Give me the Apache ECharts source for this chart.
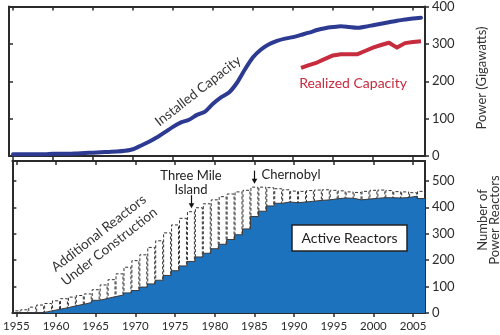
<!DOCTYPE html>
<html>
<head>
<meta charset="utf-8">
<script src="https://cdn.jsdelivr.net/npm/echarts@6/dist/echarts.min.js"></script>
<style>
  html, body { margin: 0; padding: 0; background: #fff; }
  #chart { width: 500px; height: 335px; }
</style>
</head>
<body>
<div id="chart"></div>
<script>
// ---- data -------------------------------------------------------------
const years = [1955,1956,1957,1958,1959,1960,1961,1962,1963,1964,
               1965,1966,1967,1968,1969,1970,1971,1972,1973,1974,
               1975,1976,1977,1978,1979,1980,1981,1982,1983,1984,
               1985,1986,1987,1988,1989,1990,1991,1992,1993,1994,
               1995,1996,1997,1998,1999,2000,2001,2002,2003,2004,
               2005,2006];
const yearTicks = [1955,1960,1965,1970,1975,1980,1985,1990,1995,2000,2005];
const powerTicks = [0,100,200,300,400];
const reactorTicks = [0,100,200,300,400,500];

// installed nuclear capacity, GW
const installedCapacity = [5,5,5,5,5,6,6,6,7,8,
                           9,10,11,12,14,18,28,38,50,64,
                           78,90,97,110,119,140,157,170,196,232,
                           264,285,299,308,314,318,324,330,337,342,
                           345,347,345,343,346,350,354,358,362,365,
                           368,370];
// realized (average delivered) capacity, GW
const realizedYears = [1991,1992,1993,1994,1995,1996,1997,1998,1999,2000,
                       2001,2002,2003,2004,2005,2006];
const realizedCapacity = [236,243,250,260,269,272,272,272,281,290,
                          297,303,290,302,305,307];
// reactors in operation
const activeReactors = [0,0,1,2,8,14,20,27,33,40,
                        48,55,62,68,76,85,98,110,124,142,
                        160,178,195,212,226,243,260,278,296,318,
                        365,385,405,415,420,417,420,423,426,428,
                        432,435,434,428,431,434,436,436,435,437,
                        442,433];
// reactors in operation plus those under construction
const totalReactors = [10,14,24,32,38,48,56,62,68,74,
                       90,108,128,150,175,200,222,250,275,305,
                       335,360,385,400,415,430,442,452,460,466,
                       478,478,476,472,468,463,462,465,467,468,
                       466,464,460,458,462,466,467,465,461,460,
                       457,462];

// ---- styling ----------------------------------------------------------
const FONT = 'Lato, "Noto Sans", sans-serif';
const INK = '#2b2b2b';
const NAVY = '#2d3a92';
const RED = '#c62b3e';
const FILL = '#1c72bd';
const X_MIN = 1954.5, X_MAX = 2006.5;

// each year's count spans from half a year before to half a year after it
function stepPoints(vals) {
  const pts = [];
  years.forEach((y, i) => { pts.push([y - 0.5, vals[i]], [y + 0.5, vals[i]]); });
  return pts;
}

const frameLine = { show: true, onZero: false, lineStyle: { color: INK, width: 2 } };
const tickLine = { color: INK, width: 1.5 };

function xAxisFor(grid, position, inside, labels) {
  return {
    type: 'value', gridIndex: grid, position: position,
    min: X_MIN, max: X_MAX,
    axisLine: frameLine,
    axisTick: { show: true, inside: inside, length: 4, customValues: yearTicks, lineStyle: tickLine },
    axisLabel: labels
      ? { show: true, customValues: yearTicks, formatter: v => String(v),
          color: INK, fontFamily: FONT, fontSize: 11.5, margin: 7 }
      : { show: false },
    splitLine: { show: false }
  };
}
function yAxisFor(grid, position, max, ticks, labels) {
  return {
    type: 'value', gridIndex: grid, position: position,
    min: 0, max: max,
    axisLine: frameLine,
    axisTick: { show: true, inside: !labels, length: 4, customValues: ticks, lineStyle: tickLine },
    axisLabel: labels
      ? { show: true, customValues: ticks, color: INK, fontFamily: FONT, fontSize: 13, margin: 7 }
      : { show: false },
    splitLine: { show: false }
  };
}

const chart = echarts.init(document.getElementById('chart'), null, { renderer: 'canvas' });

chart.setOption({
  animation: false,
  backgroundColor: '#fff',
  grid: [
    { left: 9, top: 5, width: 416, height: 151 },
    { left: 9, top: 161, width: 416, height: 152 }
  ],
  xAxis: [
    xAxisFor(0, 'bottom', false, false),
    xAxisFor(0, 'top', true, false),
    xAxisFor(1, 'bottom', false, true),
    xAxisFor(1, 'top', true, false)
  ],
  yAxis: [
    yAxisFor(0, 'right', 400, powerTicks, true),
    yAxisFor(0, 'left', 400, powerTicks, false),
    yAxisFor(1, 'right', 575, reactorTicks, true),
    yAxisFor(1, 'left', 575, reactorTicks, false)
  ],
  series: [
    {
      name: 'Installed Capacity', type: 'line', xAxisIndex: 0, yAxisIndex: 0,
      data: years.map((y, i) => [y, installedCapacity[i]]),
      smooth: 0.25, showSymbol: false,
      lineStyle: { color: NAVY, width: 4, cap: 'round', join: 'round' }, z: 3
    },
    {
      name: 'Realized Capacity', type: 'line', xAxisIndex: 0, yAxisIndex: 0,
      data: realizedYears.map((y, i) => [y, realizedCapacity[i]]),
      showSymbol: false,
      lineStyle: { color: RED, width: 4, join: 'round' }, z: 3
    },
    {
      // dashed columns up to the total; the active area covers their lower part
      name: 'Under Construction', type: 'bar', xAxisIndex: 2, yAxisIndex: 2,
      barWidth: '100%', silent: true,
      data: years.map((y, i) => [y, totalReactors[i]]),
      itemStyle: { color: 'rgba(255,255,255,0)', borderColor: '#333', borderWidth: 1, borderType: [3, 2] },
      z: 1
    },
    {
      name: 'Active Reactors', type: 'line', xAxisIndex: 2, yAxisIndex: 2,
      data: stepPoints(activeReactors), showSymbol: false,
      lineStyle: { color: '#3a3a3a', width: 1 },
      areaStyle: { color: FILL, opacity: 1 }, z: 3
    }
  ]
});

// event arrows point at the top of the stacked reactor count for that year
function arrowAt(year) {
  const i = years.indexOf(year);
  const p = chart.convertToPixel({ xAxisIndex: 2, yAxisIndex: 2 }, [year, totalReactors[i]]);
  const x = Math.round(p[0]) + 0.5, tip = p[1] - 3;
  return [
    { type: 'line', z: 100, shape: { x1: x, y1: tip - 13, x2: x, y2: tip - 3 }, style: { stroke: '#111', lineWidth: 1.2 } },
    { type: 'polygon', z: 100, shape: { points: [[x - 2.8, tip - 5], [x + 2.8, tip - 5], [x, tip]] }, style: { fill: '#111' } }
  ];
}

const textStyle = (t, size, color, extra) => Object.assign({
  text: t, font: size + 'px ' + FONT, fill: color, align: 'center', verticalAlign: 'middle'
}, extra || {});

chart.setOption({
  graphic: [
    { type: 'text', z: 100, x: 198, y: 91, rotation: 38 * Math.PI / 180,
      style: textStyle('Installed Capacity', 13.5, '#333') },
    { type: 'text', z: 100, x: 353, y: 83,
      style: textStyle('Realized Capacity', 14, RED) },
    { type: 'text', z: 100, x: 482, y: 78, rotation: Math.PI / 2,
      style: textStyle('Power (Gigawatts)', 13, '#333') },
    { type: 'text', z: 100, x: 489, y: 220, rotation: Math.PI / 2,
      style: textStyle('Number of\nPower Reactors', 13, '#333', { lineHeight: 12 }) },
    { type: 'text', z: 100, x: 104, y: 240, rotation: 38 * Math.PI / 180,
      style: textStyle('Additional Reactors\nUnder Construction', 13.5, '#333', { lineHeight: 17 }) },
    { type: 'text', z: 100, x: 191, y: 183,
      style: textStyle('Three Mile\nIsland', 13, '#222', { lineHeight: 14 }) },
    { type: 'text', z: 100, x: 291, y: 175,
      style: textStyle('Chernobyl', 13, '#222') },
    { type: 'rect', z: 100, shape: { x: 292, y: 225, width: 115, height: 26 },
      style: { fill: '#fff', stroke: '#222', lineWidth: 1.5 } },
    { type: 'text', z: 101, x: 349.5, y: 238,
      style: textStyle('Active Reactors', 14, '#222') }
  ].concat(arrowAt(1977), arrowAt(1985))
});
</script>
</body>
</html>
